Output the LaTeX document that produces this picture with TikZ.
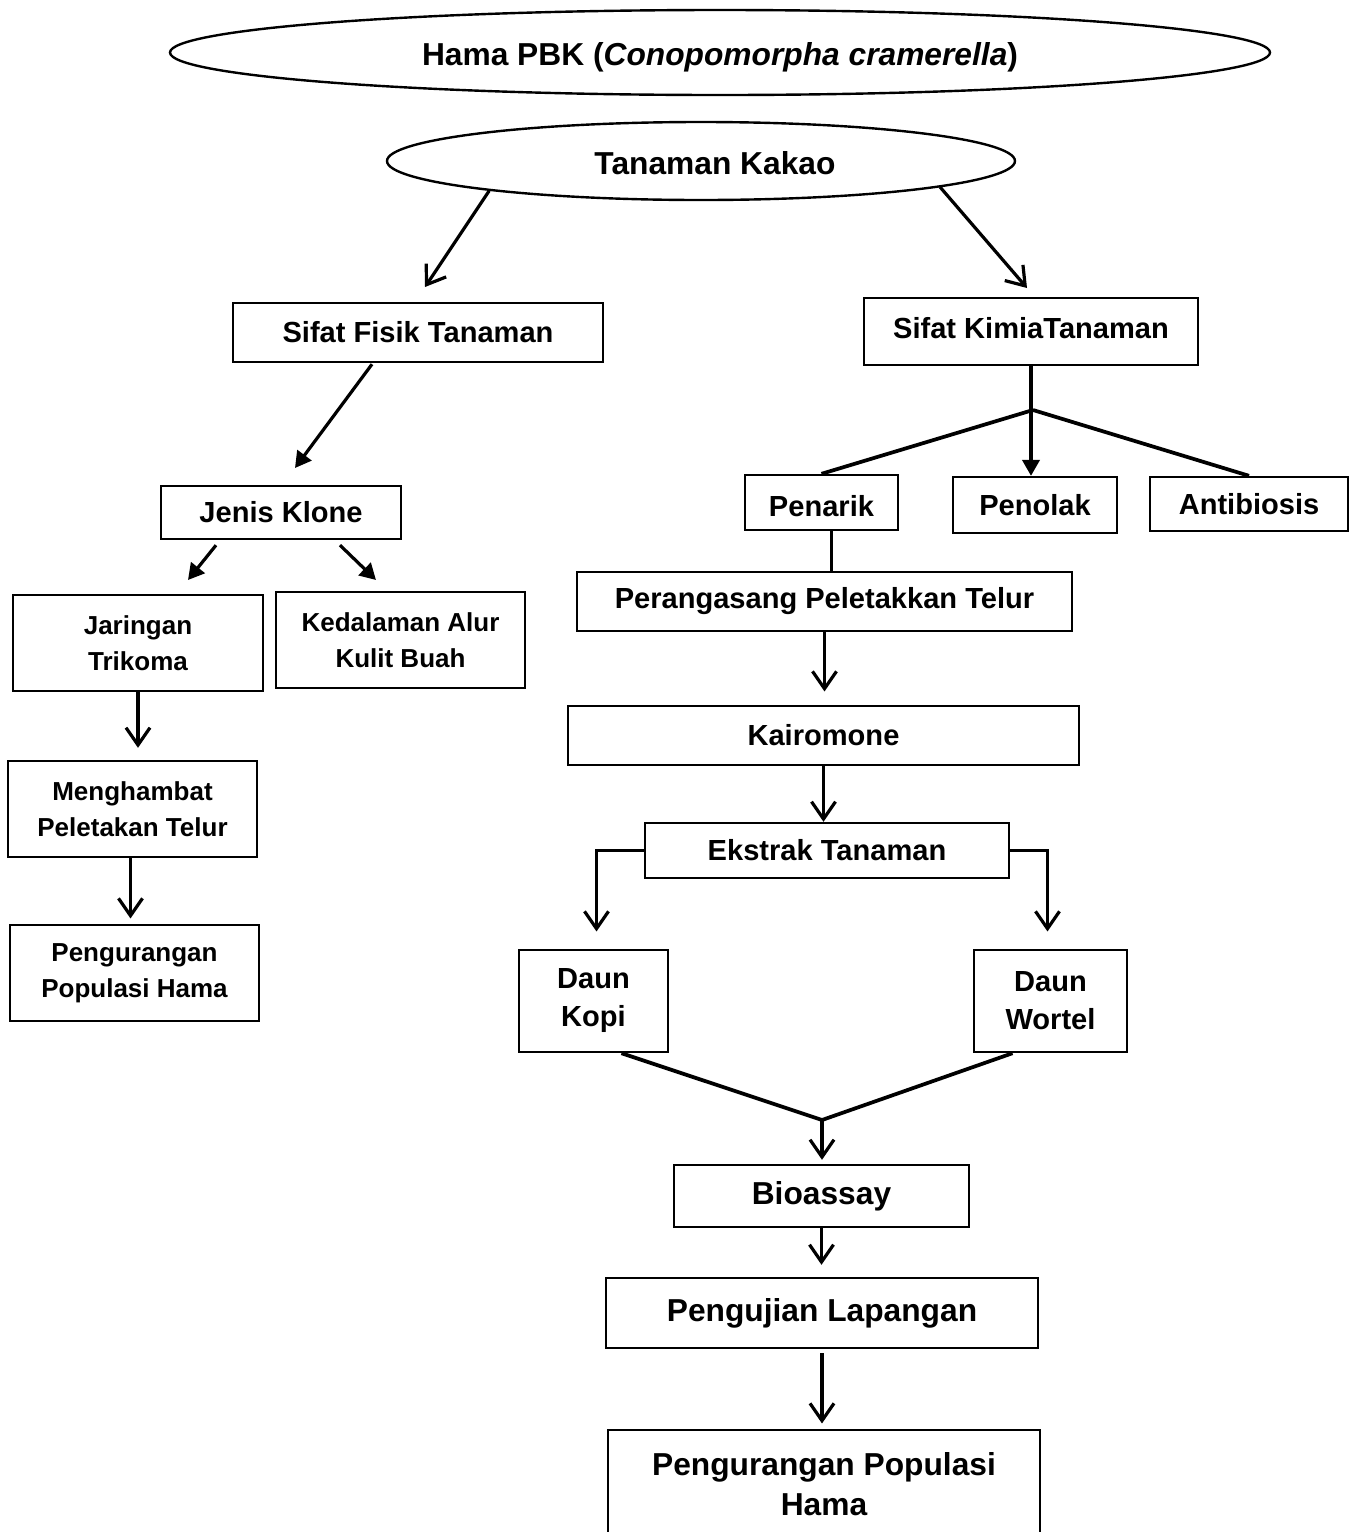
\documentclass[tikz,border=0pt]{standalone}
\usepackage{fontspec}
\setmainfont{Liberation Sans}
\usetikzlibrary{shapes.geometric,arrows.meta,calc}
\newcommand{\fA}{\fontsize{19.5}{27}\selectfont\bfseries}
\newcommand{\fB}{\fontsize{21.8}{28.5}\selectfont\bfseries}
\newcommand{\fC}{\fontsize{23.8}{30}\selectfont\bfseries}
\tikzset{
  box/.style={draw, line width=1.8pt, rectangle, inner sep=0pt, align=center, font=\fB},
  ell/.style={draw, ellipse, line width=1.8pt, inner sep=0pt, font=\fC},
  arrO/.style={line width=2.4pt, -{Straight Barb[length=13pt,width=18pt]}},
  arrF/.style={line width=2.4pt, -{Triangle[length=12pt,width=13pt]}},
  conn/.style={line width=2.8pt},
}
\begin{document}
\begin{tikzpicture}[x=0.75pt,y=-0.75pt]
\fill[white] (0,0) rectangle (1354,1532);
\useasboundingbox (0,0) rectangle (1354,1532);

% ellipses
\node[ell, minimum width=825pt, minimum height=63.75pt, text height=25pt, text depth=5pt] (title) at (720,52.5) {Hama PBK (\textit{Conopomorpha cramerella})};
\node[ell, minimum width=471pt, minimum height=58.5pt, text height=20pt, text depth=0pt] (kakao) at (701,161) {\hspace*{21pt}Tanaman Kakao};

% left branch
\node[box, minimum width=277.5pt, minimum height=44.25pt] (fisik) at (418,332.5) {Sifat Fisik Tanaman};
\node[box, minimum width=180pt, minimum height=39.75pt] (klone) at (281,512.5) {Jenis Klone};
\node[box, font=\fA, minimum width=187.5pt, minimum height=72pt] (jaringan) at (138,643) {Jaringan\\Trikoma};
\node[box, font=\fA, minimum width=186.75pt, minimum height=72pt] (kedalaman) at (400.5,640) {Kedalaman Alur\\Kulit Buah};
\node[box, font=\fA, minimum width=186.75pt, minimum height=72pt] (menghambat) at (132.5,809) {Menghambat\\Peletakan Telur};
\node[box, font=\fA, minimum width=186.75pt, minimum height=72pt] (pengL) at (134.5,973) {Pengurangan\\Populasi Hama};

% right branch
\node[box, minimum width=250.5pt, minimum height=50.25pt, text height=16pt, text depth=6pt] (kimia) at (1031,331.5) {Sifat KimiaTanaman};
\node[box, minimum width=114.75pt, minimum height=41.25pt, text height=21pt, text depth=0pt] (penarik) at (821.5,502.5) {Penarik};
\node[box, minimum width=123pt, minimum height=42pt] (penolak) at (1035,505) {Penolak};
\node[box, minimum width=148.5pt, minimum height=40.5pt] (antibiosis) at (1249,504) {Antibiosis};
\node[box, minimum width=371.25pt, minimum height=44.25pt] (perangsang) at (824.5,601.5) {Perangasang Peletakkan Telur};
\node[box, minimum width=383.25pt, minimum height=44.25pt] (kairomone) at (823.5,735.5) {Kairomone};
\node[box, minimum width=273pt, minimum height=41.25pt] (ekstrak) at (827,850.5) {Ekstrak Tanaman};
\node[box, minimum width=111.75pt, minimum height=76.5pt] (kopi) at (593.5,1001) {Daun\\Kopi};
\node[box, minimum width=114.75pt, minimum height=76.5pt] (wortel) at (1050.5,1001) {Daun\\Wortel};
\node[box, font=\fC, minimum width=221.25pt, minimum height=46.5pt] (bioassay) at (821.5,1196) {Bioassay};
\node[box, font=\fC, minimum width=324pt, minimum height=52.5pt] (lapangan) at (822,1313) {Pengujian Lapangan};
\node[box, font=\fC, minimum width=324pt, minimum height=81pt] (pengR) at (824,1484) {Pengurangan Populasi\\Hama};

% free ends
\coordinate (e1) at (425,287);
\coordinate (e2) at (1027,288);
\coordinate (e3) at (295,468);
\coordinate (e4) at (188,580);
\coordinate (e5) at (376,580);
\coordinate (br) at (1033,410);
\coordinate (jn) at (822,1120);

% connectors
\draw[arrO] (kakao.188) -- (e1);
\draw[arrO] ($(kakao.center)+(239,26)$) -- (e2);
\draw[arrF] ($(fisik.south)+(-46,1)$) -- (e3);
\draw[arrF] ($(klone.south)+(-65,5)$) -- (e4);
\draw[arrF] ($(klone.south)+(59,5)$) -- (e5);
\draw[arrO, shorten >=9pt] (jaringan.south) -- (jaringan.south |- menghambat.north);
\draw[arrO, shorten >=4pt] ($(menghambat.south)+(-2,0)$) -- ($(menghambat.south |- pengL.north)+(-2,0)$);

\draw[arrF] (kimia.south) -- (kimia.south |- penolak.north);
\draw[conn] (br) -- (penarik.north);
\draw[conn] (br) -- (antibiosis.north);
\draw[conn] ($(penarik.south)+(10,0)$) -- ($(penarik.south |- perangsang.north)+(10,0)$);
\draw[arrO, shorten >=10pt] (perangsang.south) -- (perangsang.south |- kairomone.north);
\draw[arrO] (kairomone.south) -- (kairomone.south |- ekstrak.north);
\draw[arrO, shorten >=13pt] (ekstrak.west) -| ($(kopi.north)+(3,0)$);
\draw[arrO, shorten >=13pt] (ekstrak.east) -| ($(wortel.north)+(-3,0)$);
\draw[conn] ($(kopi.south)+(28,0)$) -- (jn);
\draw[conn] ($(wortel.south)+(-38,0)$) -- (jn);
\draw[arrO, shorten >=3pt] (jn) -- (jn |- bioassay.north);
\draw[arrO, shorten >=9pt] (bioassay.south) -- (bioassay.south |- lapangan.north);
\draw[arrO, shorten >=4pt, shorten <=3pt] (lapangan.south) -- (lapangan.south |- pengR.north);
\end{tikzpicture}
\end{document}
